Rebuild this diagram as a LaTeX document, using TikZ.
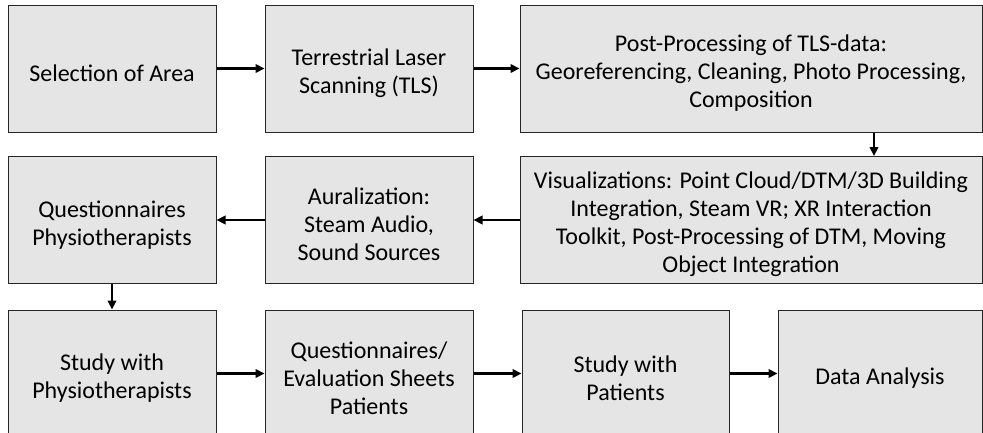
\documentclass[tikz,border=0pt]{standalone}
\usepackage{fontspec}
\setmainfont{Carlito}
\usetikzlibrary{arrows.meta}
\tikzset{
  stepbox/.style = {draw=black!85, line width=1pt, fill=black!10, align=center,
                    inner sep=0pt, minimum width=#1, minimum height=127pt,
                    font=\fontsize{24}{28}\selectfont},
  stepbox/.default = 208pt,
  flow/.style    = {line width=2.6pt, -{Triangle[length=9pt, width=8.5pt]}},
}
% taller first line, so that the text sits a little below the middle
\newcommand{\boxstrut}{\rule{0pt}{26pt}}
\begin{document}
\begin{tikzpicture}[x=1pt, y=-1pt]
\useasboundingbox (0,0) rectangle (983,432);
\clip (0,0) rectangle (983,432);
% first row
\node[stepbox]        (sel)  at (112,68.5) {\boxstrut Selection of Area};
\node[stepbox]        (tls)  at (369,68.5) {\boxstrut Terrestrial Laser\\Scanning (TLS)};
\node[stepbox=462pt]  (post) at (751,68.5) {\boxstrut Post-Processing of TLS-data:\\Georeferencing, Cleaning, Photo Processing,\\Composition};
% second row
\node[stepbox]        (qphy) at (112,220) {\boxstrut Questionnaires\\Physiotherapists};
\node[stepbox]        (aur)  at (369,220) {\boxstrut Auralization:\\Steam Audio,\\Sound Sources};
\node[stepbox=462pt]  (vis)  at (751,220) {\boxstrut Visualizations: Point Cloud/DTM/3D Building\\Integration, Steam VR; XR Interaction\\Toolkit, Post-Processing of DTM, Moving\\Object Integration};
% third row
\node[stepbox]        (sphy) at (112,373.5) {\boxstrut Study with\\Physiotherapists};
\node[stepbox]        (qpat) at (369,373.5) {\boxstrut Questionnaires/\\Evaluation Sheets\\Patients};
\node[stepbox=207pt]  (spat) at (625.5,373.5) {\boxstrut Study with\\Patients};
\node[stepbox=204pt]  (data) at (880,373.5) {\boxstrut Data Analysis};
% connectors
\draw[flow] (sel) -- (tls);
\draw[flow] (tls) -- (post);
\draw[flow] ([xshift=123pt]post.south) -- ([xshift=123pt]vis.north);
\draw[flow] (vis) -- (aur);
\draw[flow] (aur) -- (qphy);
\draw[flow] (qphy) -- (sphy);
\draw[flow] (sphy) -- (qpat);
\draw[flow] (qpat) -- (spat);
\draw[flow] (spat) -- (data);
\end{tikzpicture}
\end{document}
